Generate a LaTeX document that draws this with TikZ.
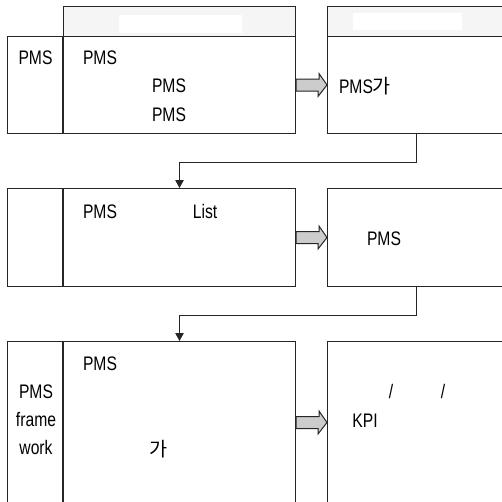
\documentclass[tikz,border=0pt]{standalone}
\usepackage{fontspec}
\setmainfont{Liberation Sans}[FakeStretch=0.8]
\newfontfamily\kr{Noto Sans CJK KR}
\usepackage{tikz}
\usetikzlibrary{calc, arrows.meta}

\begin{document}
\begin{tikzpicture}[x=1pt, y=-1pt, font=\fontsize{19.6}{28}\selectfont,
    >={Triangle[length=8pt, width=8.5pt]},
    box/.style={draw=black!85, line width=1pt, inner sep=0pt, anchor=north west},
    head/.style={box, fill=black!4, minimum height=30pt},
    link/.style={draw=black!85, line width=1pt, ->},
    fatarr/.style={draw=black!85, line width=1pt, fill=black!20, line join=miter},
    txt/.style={anchor=base, inner sep=0pt}]
    \useasboundingbox (0,0) rectangle (502,501);
    \clip (0,0) rectangle (502,501);

    % 1. Hàng thứ nhất
    \node[head, minimum width=232pt] (r1h) at (63,6) {};
    \node[box, minimum width=232pt, minimum height=97pt] (r1l) at (63,36) {};
    \node[box, minimum width=55pt, minimum height=97pt, anchor=north east] (r1c) at (r1l.north west) {};
    \node[head, minimum width=200pt] (r1rh) at (327,6) {};
    \node[box, minimum width=200pt, minimum height=97pt] (r1r) at (327,36) {};
    \fill[white] (119,15) rectangle (242,33);
    \fill[white] (353,13) rectangle (462,30);

    \node[txt] (t11) at (35.5,64) {PMS};
    \node[txt] (t12) at (100,64) {PMS};
    \node[txt] (t13) at (169,92) {PMS};
    \node[txt] (t14) at (169,121) {PMS};
    \node[txt] (t15) at (365,93) {PMS{\kr 가}};

    % 2. Hàng thứ hai
    \node[box, minimum width=232pt, minimum height=98pt] (r2l) at (63,188) {};
    \node[box, minimum width=55pt, minimum height=98pt, anchor=north east] (r2c) at (r2l.north west) {};
    \node[box, minimum width=200pt, minimum height=98pt] (r2r) at (327,188) {};

    \node[txt] (t21) at (100,218) {PMS};
    \node[txt] (t22) at (205,218) {List};
    \node[txt] (t23) at (384,245) {PMS};

    % 3. Hàng thứ ba
    \node[box, minimum width=232pt, minimum height=162pt] (r3l) at (63,341) {};
    \node[box, minimum width=55pt, minimum height=162pt, anchor=north east] (r3c) at (r3l.north west) {};
    \node[box, minimum width=200pt, minimum height=162pt] (r3r) at (327,341) {};

    \node[inner sep=0pt, align=center] (t31) at (36,420) {PMS\\frame\\work};
    \node[txt] (t32) at (100,370) {PMS};
    \node[txt] (t33) at (159,456) {\kr 가};
    \node[txt] (t34) at (391,398) {/};
    \node[txt] (t35) at (443,398) {/};
    \node[txt] (t36) at (365,427) {KPI};

    % Mũi tên lớn giữa các ô
    \foreach \a/\b in {r1l/r1r, r2l/r2r, r3l/r3r}
        \draw[fatarr] ($(\a.east)+(0,-6)$) -- ++(23,0) -- ++(0,-5.5) -- (\b.west)
            -- ++(-9,11.5) -- ++(0,-5.5) -- ($(\a.east)+(0,6)$) -- cycle;

    % Đường nối xuống hàng dưới
    \draw[link] ($(r1r.south west)+(89,0)$) -- ++(0,28) -| (r2l.north);
    \draw[link] ($(r2r.south west)+(89,0)$) -- ++(0,28) -| (r3l.north);
\end{tikzpicture}
\end{document}
